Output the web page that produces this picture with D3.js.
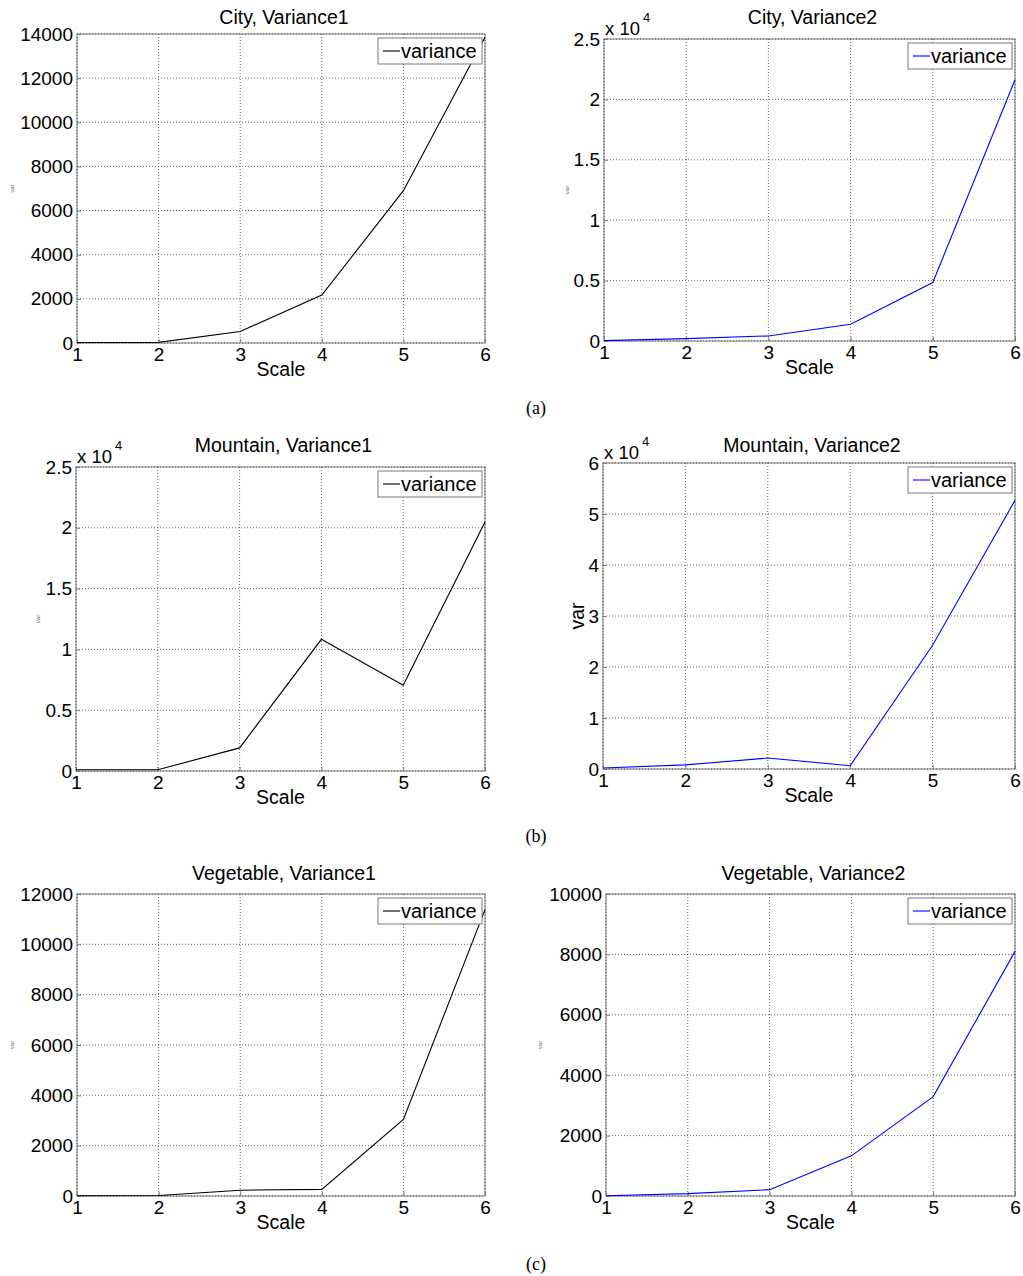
<!DOCTYPE html>
<html>
<head>
<meta charset="utf-8">
<script src="https://cdn.jsdelivr.net/npm/d3@7"></script>
<style>
  body { margin: 0; background: #fff; }
</style>
</head>
<body>
<svg id="chart" width="1023" height="1276"></svg>
<script>
const scales = [1, 2, 3, 4, 5, 6];

const cityVar1 = [20, 30, 520, 2170, 6900, 13850];
const cityVar2 = [30, 200, 420, 1390, 4840, 21620];
const mountainVar1 = [100, 100, 1900, 10830, 7060, 20470];
const mountainVar2 = [200, 800, 2150, 650, 24250, 52680];
const vegetableVar1 = [10, 20, 230, 265, 3040, 11380];
const vegetableVar2 = [10, 80, 210, 1330, 3290, 8100];

const ticksCity1 = [0, 2000, 4000, 6000, 8000, 10000, 12000, 14000];
const ticksCity2 = [0, 5000, 10000, 15000, 20000, 25000];
const ticksMountain1 = [0, 5000, 10000, 15000, 20000, 25000];
const ticksMountain2 = [0, 10000, 20000, 30000, 40000, 50000, 60000];
const ticksVeg1 = [0, 2000, 4000, 6000, 8000, 10000, 12000];
const ticksVeg2 = [0, 2000, 4000, 6000, 8000, 10000];

const captions = ["(a)", "(b)", "(c)"];

const sans = "'Liberation Sans', Arial, sans-serif";
const svg = d3.select("#chart");

// one entry per subplot, layout only
const panels = [
  {title: "City, Variance1", values: cityVar1, ticks: ticksCity1, color: "#000",
   left: 77, right: 485, top: 34, bottom: 343, titleY: 24, exp: false, bigVar: false, varX: 12},
  {title: "City, Variance2", values: cityVar2, ticks: ticksCity2, color: "#0000ff",
   left: 604, right: 1015, top: 39, bottom: 341, titleY: 24, exp: true, bigVar: false, varX: 567},
  {title: "Mountain, Variance1", values: mountainVar1, ticks: ticksMountain1, color: "#000",
   left: 76, right: 485, top: 467, bottom: 771, titleY: 452, exp: true, bigVar: false, varX: 38},
  {title: "Mountain, Variance2", values: mountainVar2, ticks: ticksMountain2, color: "#0000ff",
   left: 603, right: 1015, top: 463, bottom: 769, titleY: 452, exp: true, bigVar: true, varX: 584},
  {title: "Vegetable, Variance1", values: vegetableVar1, ticks: ticksVeg1, color: "#000",
   left: 77, right: 485, top: 894, bottom: 1196, titleY: 880, exp: false, bigVar: false, varX: 12},
  {title: "Vegetable, Variance2", values: vegetableVar2, ticks: ticksVeg2, color: "#0000ff",
   left: 606, right: 1015, top: 894, bottom: 1196, titleY: 880, exp: false, bigVar: false, varX: 540}
];

panels.forEach(function (p) {
  var g = svg.append("g").attr("font-family", sans);
  var x = d3.scaleLinear().domain([1, 6]).range([p.left, p.right]);
  var y = d3.scaleLinear().domain([0, d3.max(p.ticks)]).range([p.bottom, p.top]);

  // axes box
  g.append("rect")
    .attr("x", p.left).attr("y", p.top)
    .attr("width", p.right - p.left).attr("height", p.bottom - p.top)
    .attr("fill", "#fff").attr("stroke", "#7a7a7a").attr("stroke-width", 1);

  // grid
  g.selectAll(".vgrid").data(scales).enter().append("line")
    .attr("x1", d => x(d)).attr("x2", d => x(d))
    .attr("y1", p.top).attr("y2", p.bottom)
    .attr("stroke", "#444").attr("stroke-width", 0.8).attr("stroke-dasharray", "1,2");
  g.selectAll(".hgrid").data(p.ticks).enter().append("line")
    .attr("x1", p.left).attr("x2", p.right)
    .attr("y1", d => y(d)).attr("y2", d => y(d))
    .attr("stroke", "#444").attr("stroke-width", 0.8).attr("stroke-dasharray", "1,2");

  // x axis
  var xAxis = g.append("g")
    .attr("transform", "translate(0," + p.bottom + ")")
    .call(d3.axisBottom(x).tickValues(scales).tickFormat(d3.format("d"))
      .tickSizeInner(-4).tickSizeOuter(0).tickPadding(5));
  // y axis
  var yAxis = g.append("g")
    .attr("transform", "translate(" + p.left + ",0)")
    .call(d3.axisLeft(y).tickValues(p.ticks).tickSizeInner(-4).tickSizeOuter(0).tickPadding(4)
      .tickFormat(p.exp ? (d => d / 10000) : (d => d)));
  [xAxis, yAxis].forEach(function (a) {
    a.attr("font-family", sans);
    a.select(".domain").remove();
    a.selectAll(".tick line").attr("stroke", "#7a7a7a");
    a.selectAll(".tick text").attr("font-size", 19).attr("fill", "#000");
  });

  if (p.exp) {
    g.append("text").attr("x", p.left + 1).attr("y", p.top - 4)
      .attr("font-size", 18.5).text("x 10");
    g.append("text").attr("x", p.left + 39).attr("y", p.top - 17)
      .attr("font-size", 13).text("4");
  }

  // line
  var line = d3.line().x((d, i) => x(scales[i])).y(d => y(d));
  g.append("path").datum(p.values)
    .attr("d", line)
    .attr("fill", "none").attr("stroke", p.color).attr("stroke-width", 1.1);

  // legend
  var lx = p.right - 107, ly = p.top + 4;
  g.append("rect").attr("x", lx).attr("y", ly).attr("width", 104).attr("height", 26)
    .attr("fill", "#fff").attr("stroke", "#7a7a7a").attr("stroke-width", 1);
  g.append("line").attr("x1", lx + 5).attr("x2", lx + 22)
    .attr("y1", ly + 13).attr("y2", ly + 13)
    .attr("stroke", p.color).attr("stroke-width", 1.1);
  g.append("text").attr("x", lx + 23).attr("y", ly + 19.5)
    .attr("font-size", 20).text("variance");

  // title and labels
  g.append("text").attr("x", (p.left + p.right) / 2 + 3).attr("y", p.titleY)
    .attr("text-anchor", "middle").attr("font-size", 19.5).text(p.title);
  g.append("text").attr("x", (p.left + p.right) / 2).attr("y", p.bottom + 33)
    .attr("text-anchor", "middle").attr("font-size", 19.5).text("Scale");

  var vy = (p.top + p.bottom) / 2;
  if (p.bigVar) {
    g.append("text").attr("transform", "translate(" + p.varX + "," + vy + ") rotate(-90)")
      .attr("text-anchor", "middle").attr("font-size", 19.5).text("var");
  } else {
    g.append("text").attr("transform", "translate(" + (p.varX + 2) + "," + vy + ") rotate(-90)")
      .attr("text-anchor", "middle").attr("font-size", 6).attr("fill", "#6b5a50").text("var");
  }
});

// sub-figure captions
svg.selectAll(".caption").data(captions).enter().append("text")
  .attr("x", 536)
  .attr("y", (d, i) => 414 + i * 428)
  .attr("text-anchor", "middle")
  .attr("font-family", "'Liberation Serif', 'Times New Roman', serif")
  .attr("font-size", 18)
  .text(d => d);
</script>
</body>
</html>
